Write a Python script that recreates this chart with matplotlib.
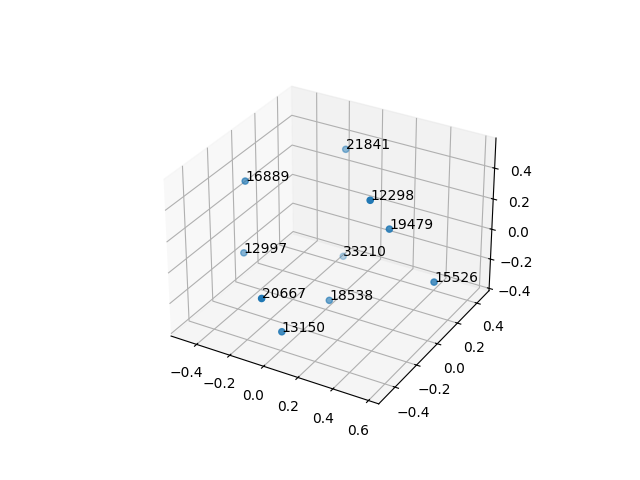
import matplotlib
matplotlib.use('Agg')
import matplotlib.pyplot as plt

labels = ['21841', '16889', '12298', '19479', '12997',
          '33210', '15526', '20667', '18538', '13150']
xs = [-0.166, -0.465, 0.273, 0.314, -0.473, -0.151, 0.553, -0.061, 0.032, -0.025]
ys = [0.442, -0.021, -0.023, 0.093, -0.037, 0.398, 0.133, -0.466, -0.015, -0.353]
zs = [0.332, 0.302, 0.404, 0.162, -0.166, -0.362, -0.132, -0.050, -0.333, -0.333]

fig = plt.figure(figsize=(6.4, 4.8), dpi=100)
ax = fig.add_subplot(projection='3d')
ax.scatter(xs, ys, zs)
for x, y, z, lab in zip(xs, ys, zs, labels):
    ax.text(x, y, z, lab)

ax.set_xlim(-0.556, 0.657)
ax.set_ylim(-0.547, 0.528)
ax.set_zlim(-0.416, 0.592)

plt.savefig('out.png')
